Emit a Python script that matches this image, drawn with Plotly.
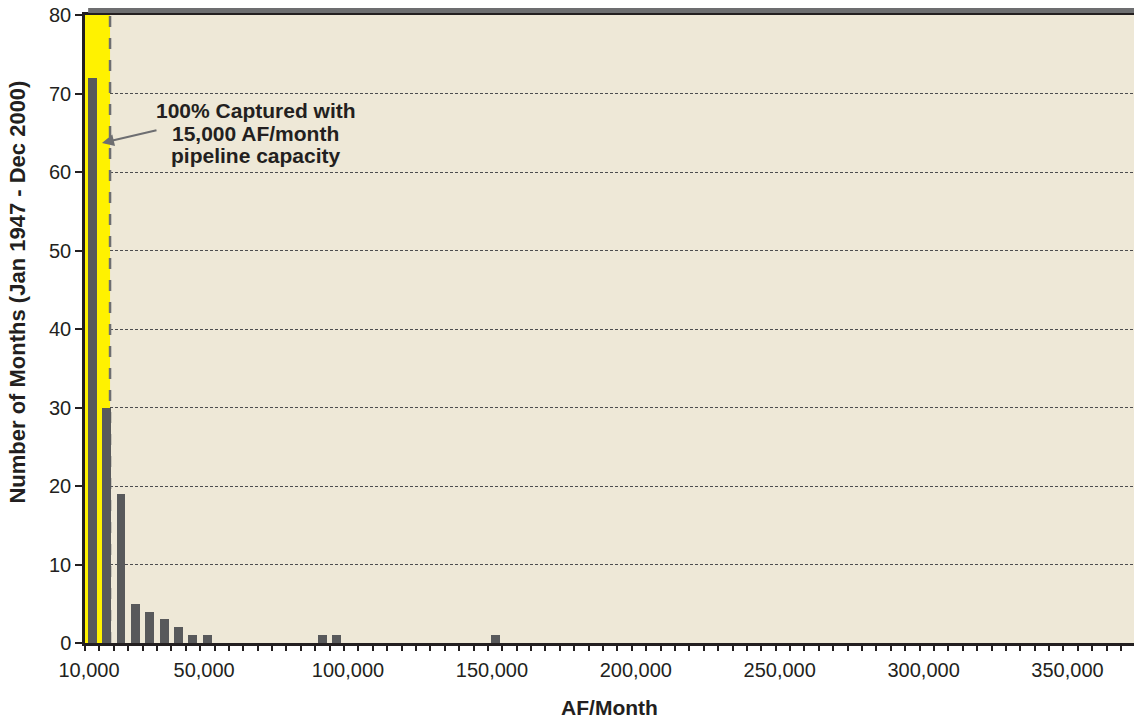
import plotly.graph_objects as go

# Histograma: meses por faixa de vazão (AF/mês)
bin_centers = [12500, 17500, 22500, 27500, 32500, 37500, 42500, 47500, 52500, 92500, 97500, 152500]
months = [72, 30, 19, 5, 4, 3, 2, 1, 1, 1, 1, 1]

x_tickvals = [10000, 50000, 100000, 150000, 200000, 250000, 300000, 350000]
x_ticktext = ["10,000", "50,000", "100,000", "150,000", "200,000", "250,000", "300,000", "350,000"]

capture_edge = 18700  # limite da faixa amarela / linha tracejada
annot_lines = ["100% Captured with", "15,000 AF/month", "pipeline capacity"]

TEXT = "#231f20"
BAR = "#58595b"
BG = "#eee8d7"
YELLOW = "#fff200"
FONT = "Liberation Sans, Arial, sans-serif"

fig = go.Figure()

fig.add_trace(go.Bar(
    x=bin_centers,
    y=months,
    width=3100,
    marker=dict(color=BAR, line=dict(width=0)),
    hoverinfo="skip",
))

# faixa amarela capturada + linha tracejada
fig.add_shape(type="rect", xref="x", yref="y", x0=10000, x1=capture_edge, y0=0, y1=80,
              fillcolor=YELLOW, line=dict(width=0), layer="between")
fig.add_shape(type="line", xref="x", yref="y", x0=capture_edge, x1=capture_edge, y0=0, y1=80,
              line=dict(color="#6d6e71", width=2.5, dash="11px,11px"), layer="between")

# faixa cinza no topo (sombra)
fig.add_shape(type="rect", xref="paper", yref="paper", x0=0.003, x1=1.0,
              y0=2, y1=7, ysizemode="pixel", yanchor=1.0,
              fillcolor="#6d6e70", line=dict(width=0))

# texto da anotação
for i, line in enumerate(annot_lines):
    fig.add_annotation(text=f"<b>{line}</b>", xref="paper", yref="paper",
                       x=0.163, y=0.8476 - i * 0.0359, xanchor="center", yanchor="middle",
                       showarrow=False, font=dict(family=FONT, size=21, color=TEXT))

# seta
fig.add_annotation(text="", x=15900, y=63.7, xref="x", yref="y",
                   ax=56, ay=-13, showarrow=True, arrowhead=2, arrowsize=1.2,
                   arrowwidth=2, arrowcolor="#6d6e71")

# título do eixo y
fig.add_annotation(text="<b>Number of Months (Jan 1947 - Dec 2000)</b>", xref="paper", yref="paper",
                   x=0, y=0.558, xshift=-67, textangle=-90, showarrow=False,
                   xanchor="center", yanchor="middle",
                   font=dict(family=FONT, size=22, color=TEXT))

fig.update_layout(
    width=1134,
    height=719,
    margin=dict(l=85, r=0, t=15, b=76),
    paper_bgcolor="white",
    plot_bgcolor=BG,
    showlegend=False,
    bargap=0,
    font=dict(family=FONT, color=TEXT),
    xaxis=dict(
        range=[10000, 374500],
        tickvals=x_tickvals,
        ticktext=x_ticktext,
        ticks="outside",
        ticklen=5,
        tickwidth=1.5,
        tickcolor=TEXT,
        ticklabelshift=4,
        ticklabelstandoff=2,
        minor=dict(ticks="outside", tick0=10000, dtick=5000, ticklen=5, tickwidth=1.5,
                   tickcolor=TEXT, showgrid=False),
        showgrid=False,
        zeroline=False,
        showline=True,
        linewidth=3,
        linecolor=TEXT,
        mirror=True,
        automargin=False,
        tickfont=dict(family=FONT, size=20, color=TEXT),
        title=dict(text="<b>AF/Month</b>", font=dict(family=FONT, size=21, color=TEXT), standoff=22),
    ),
    yaxis=dict(
        range=[0, 80],
        dtick=10,
        ticks="outside",
        ticklen=7,
        tickwidth=1.5,
        tickcolor=TEXT,
        showgrid=True,
        gridcolor="#4d4d4f",
        gridwidth=1,
        griddash="3px,2px",
        zeroline=False,
        showline=True,
        linewidth=2.5,
        linecolor=TEXT,
        automargin=False,
        tickfont=dict(family=FONT, size=20, color=TEXT),
    ),
)

fig.write_html("out.html", config={"displayModeBar": False},
               post_script="document.body.style.margin='0';")
